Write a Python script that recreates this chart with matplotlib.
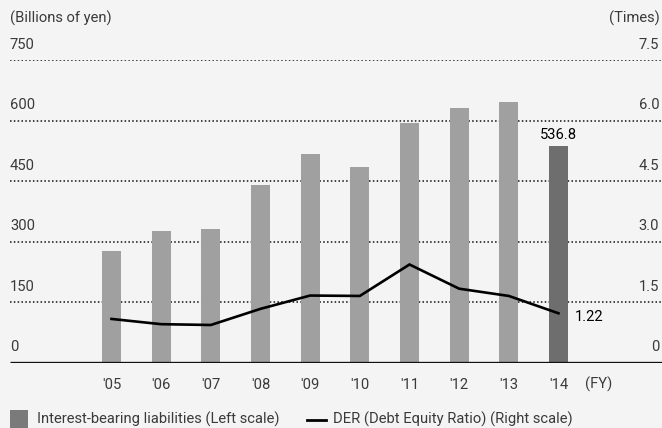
import matplotlib
matplotlib.use("Agg")
import matplotlib.pyplot as plt
from matplotlib.patches import Rectangle
from matplotlib.lines import Line2D

years = ["'05", "'06", "'07", "'08", "'09", "'10", "'11", "'12", "'13", "'14"]
liabilities = [277, 327, 330, 439, 516, 484, 593, 631, 645, 536.8]
der = [1.08, 0.95, 0.93, 1.33, 1.66, 1.65, 2.43, 1.83, 1.65, 1.22]
left_ticks = [0, 150, 300, 450, 600, 750]
right_ticks = ["0", "1.5", "3.0", "4.5", "6.0", "7.5"]

FONT = ["Roboto", "DejaVu Sans"]
TXT = "#3a3a3a"
plt.rcParams['font.family'] = FONT
FS = 10.6

W, H = 662, 428
fig = plt.figure(figsize=(W / 100, H / 100), dpi=100)
fig.patch.set_facecolor("#f4f4f4")

y0, y750 = 362.5, 60.0
ax = fig.add_axes([10 / W, (H - y0) / H, 652 / W, (y0 - y750) / H])
ax.set_facecolor("#f4f4f4")
ax.set_xlim(-2.043, 11.084)
ax.set_ylim(0, 750)
ax.axis("off")

ax2 = ax.twinx()
ax2.set_ylim(0, 7.5)
ax2.axis("off")

# gridlines
for v in left_ticks[1:]:
    ax.axhline(v, color="#111111", lw=1.1, ls=(0, (1, 1.5)), zorder=1)
ax.axhline(0, color="#111111", lw=2.4, zorder=4, solid_capstyle="butt")

x = list(range(len(years)))
colors = ["#a0a0a0"] * (len(years) - 1) + ["#6e6e6e"]
ax.bar(x, liabilities, width=0.38, color=colors, zorder=2)

ax2.plot(x, der, color="black", lw=1.9, zorder=5, solid_joinstyle="miter")

# tick labels
for v, r in zip(left_ticks, right_ticks):
    ax.annotate(str(v), xy=(0, v), xycoords=("axes fraction", "data"),
                xytext=(0, 6), textcoords="offset points",
                ha="left", va="bottom", fontsize=FS, color=TXT)
    ax.annotate(r, xy=(1, v), xycoords=("axes fraction", "data"),
                xytext=(-2, 6), textcoords="offset points",
                ha="right", va="bottom", fontsize=FS, color=TXT)

for xi, lab in zip(x, years):
    ax.annotate(lab, xy=(xi, 0), xycoords="data", xytext=(0, -16),
                textcoords="offset points", ha="center", va="center",
                fontsize=FS, color=TXT)
ax.annotate("(FY)", xy=(x[-1], 0), xycoords="data", xytext=(19, -16),
            textcoords="offset points", ha="left", va="center",
            fontsize=FS, color=TXT)

ax.annotate("536.8", xy=(x[-1], liabilities[-1]), xytext=(0, 8),
            textcoords="offset points", ha="center", va="center",
            fontsize=FS, color="black")
ax2.annotate("1.22", xy=(x[-1], der[-1]), xytext=(12, -3),
             textcoords="offset points", ha="left", va="center",
             fontsize=FS, color="black")

fig.text(10 / W, 1 - 18 / H, "(Billions of yen)", ha="left", va="center",
         fontsize=FS, color=TXT)
fig.text(660 / W, 1 - 18 / H, "(Times)", ha="right", va="center",
         fontsize=FS, color=TXT)

# legend
fig.patches.append(Rectangle((10 / W, 0), 18 / W, 18 / H, transform=fig.transFigure,
                             facecolor="#7a7a7a", edgecolor="none"))
fig.text(37 / W, 1 - 419 / H, "Interest-bearing liabilities (Left scale)",
         ha="left", va="center", fontsize=FS, color=TXT)
fig.lines.append(Line2D([307 / W, 326 / W], [1 - 420 / H, 1 - 420 / H],
                        transform=fig.transFigure, color="black", lw=2))
fig.text(333 / W, 1 - 419 / H, "DER (Debt Equity Ratio) (Right scale)",
         ha="left", va="center", fontsize=FS, color=TXT)

fig.savefig("out.png", dpi=100, facecolor=fig.get_facecolor())
